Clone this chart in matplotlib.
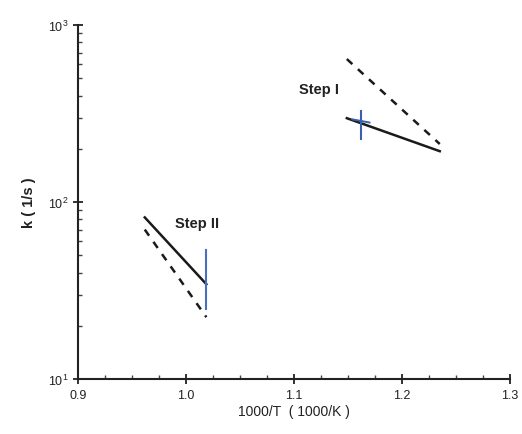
import matplotlib
matplotlib.use("Agg")
import matplotlib.pyplot as plt
from matplotlib.ticker import LogLocator, MultipleLocator, FixedLocator, NullFormatter

plt.rcParams['font.family'] = ['Liberation Sans', 'DejaVu Sans']
plt.rcParams['mathtext.fontset'] = 'custom'
plt.rcParams['mathtext.rm'] = 'Liberation Sans'

# Arrhenius lines, Step I
step1_x = [1.149, 1.235]
step1_solid = [298, 194]
step1_dash = [643, 213]
step1_bar_x = [1.162, 1.162]
step1_bar_k = [227, 327]

# Arrhenius lines, Step II
step2_x = [0.962, 1.019]
step2_solid = [82, 34.4]
step2_dash = [70, 22.4]
step2_bar_x = [1.019, 1.019]
step2_bar_k = [24.8, 54]

labels = ["Step I", "Step II"]
label_pos = [(1.105, 413), (0.990, 72)]

fig = plt.figure(figsize=(5.22, 4.35), dpi=100)
ax = fig.add_axes([0.149, 0.126, 0.828, 0.814])

ax.plot(step1_x, step1_solid, color='#1a1a1a', lw=1.8)
ax.plot(step1_x, step1_dash, color='#1a1a1a', lw=1.8, ls=(0, (3, 3)))
ax.plot(step1_bar_x, step1_bar_k, color='#3a5fb0', lw=1.5)
ax.plot([1.154, 1.170], [step1_solid[0] * 0.985, step1_solid[0] * 0.945], color='#3a5fb0', lw=1.4)

ax.plot(step2_x, step2_solid, color='#1a1a1a', lw=1.8)
ax.plot(step2_x, step2_dash, color='#1a1a1a', lw=1.8, ls=(0, (3, 3)))
ax.plot(step2_bar_x, step2_bar_k, color='#4a6fc0', lw=1.5)

for t, (x, y) in zip(labels, label_pos):
    ax.text(x, y, t, fontsize=10.5, fontweight='bold', color='#222222')

ax.set_yscale('log')
ax.set_xlim(0.9, 1.3)
ax.set_ylim(10, 1000)

ax.xaxis.set_major_locator(MultipleLocator(0.1))
ax.xaxis.set_minor_locator(MultipleLocator(0.025))
ax.yaxis.set_major_locator(FixedLocator([10, 100, 1000]))
ax.set_yticklabels([r'$10^{1}$', r'$10^{2}$', r'$10^{3}$'])
ax.yaxis.set_minor_locator(LogLocator(base=10, subs=range(2, 10)))
ax.yaxis.set_minor_formatter(NullFormatter())

for s in ['top', 'right']:
    ax.spines[s].set_visible(False)
for s in ['left', 'bottom']:
    ax.spines[s].set_linewidth(1.5)
    ax.spines[s].set_color('#222222')

ax.tick_params(which='major', direction='inout', length=7, width=1.3, labelsize=9, colors='#222222')
ax.tick_params(which='minor', direction='in', length=3, width=1.0, colors='#444444')
ax.set_xticks([0.9, 1.0, 1.1, 1.2, 1.3])
ax.set_xticklabels(['0.9', '1.0', '1.1', '1.2', '1.3'])

ax.set_xlabel('1000/T  ( 1000/K )', fontsize=10, color='#222222', labelpad=2)
ax.set_ylabel('k ( 1/s )', fontsize=10.5, fontweight='bold', color='#222222', labelpad=8)

fig.savefig('out.png', dpi=100)
